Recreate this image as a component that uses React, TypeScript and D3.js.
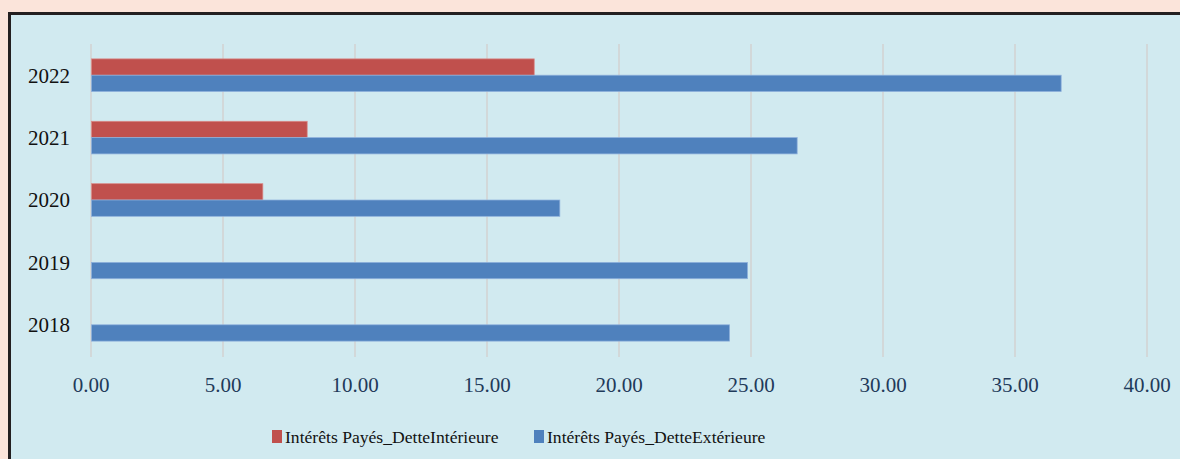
import React from "react";
import * as d3 from "d3";

const years = ["2022", "2021", "2020", "2019", "2018"];
const interieure = [16.77, 8.17, 6.49, 0, 0];
const exterieure = [36.73, 26.73, 17.74, 24.85, 24.17];
const xTicks = [0, 5, 10, 15, 20, 25, 30, 35, 40];
const seriesNames = ["Intérêts Payés_DetteIntérieure", "Intérêts Payés_DetteExtérieure"];
const colors = ["#c0504d", "#4f81bd"];
const strokes = ["#d98a88", "#8fb1dc"];

const W = 1180, H = 459;
const FONT = "'Liberation Serif', 'DejaVu Serif', serif";

export default function App() {
  const x = d3.scaleLinear().domain([0, 40]).range([91, 1147]);
  const y = d3.scaleBand().domain(years).range([44, 356]).paddingInner(0.477).paddingOuter(0.2385);
  const inner = d3.scaleBand().domain(["0", "1"]).range([0, y.bandwidth()]);
  const series = [interieure, exterieure];

  return (
    <svg width={W} height={H} style={{ position: "absolute", left: 0, top: 0 }} fontFamily={FONT}>
      <rect x={0} y={0} width={W} height={H} fill="#fbe4da" />
      <rect x={9.5} y={13.5} width={W + 20} height={H + 20} fill="#d1eaf0" stroke="#231f20" strokeWidth={3} />
      {xTicks.map((t) => (
        <line key={t} x1={x(t)} x2={x(t)} y1={44} y2={357} stroke="#d2d2d2" strokeWidth={1.5} />
      ))}
      {years.map((yr, i) => (
        <g key={yr}>
          {series.map((s, k) =>
            s[i] > 0 ? (
              <rect
                key={k}
                x={x(0) + 0.5}
                y={(y(yr) as number) + (inner(String(k)) as number)}
                width={x(s[i]) - x(0)}
                height={inner.bandwidth()}
                fill={colors[k]}
                stroke={strokes[k]}
                strokeWidth={0.75}
              />
            ) : null
          )}
          <text x={70} y={(y(yr) as number) + y.bandwidth() / 2} dy="0.35em" textAnchor="end" fontSize={21} fill="#111">
            {yr}
          </text>
        </g>
      ))}
      {xTicks.map((t) => (
        <text key={t} x={x(t)} y={385} dy="0.35em" textAnchor="middle" fontSize={21} fill="#1f3a5a">
          {d3.format(".2f")(t)}
        </text>
      ))}
      <rect x={272} y={430} width={10} height={13} fill={colors[0]} />
      <text x={285} y={437} dy="0.35em" fontSize={17.6} fill="#111">
        {seriesNames[0]}
      </text>
      <rect x={534} y={430} width={10} height={13} fill={colors[1]} />
      <text x={547} y={437} dy="0.35em" fontSize={17.6} fill="#111">
        {seriesNames[1]}
      </text>
    </svg>
  );
}
